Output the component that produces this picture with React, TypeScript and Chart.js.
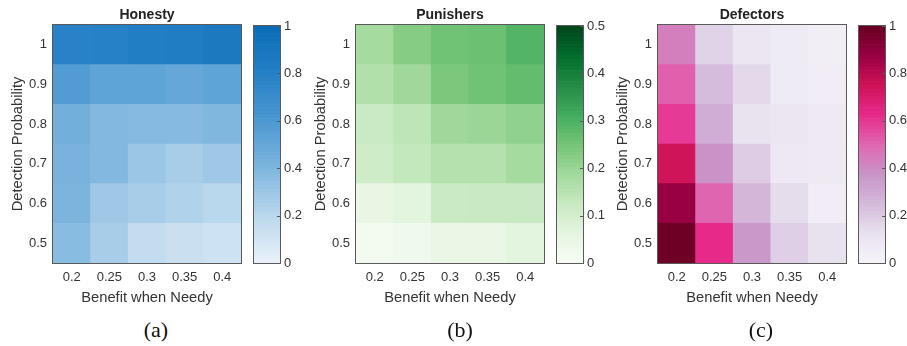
import React, { useEffect, useRef } from 'react';
import { Chart, registerables } from 'chart.js';
Chart.register(...registerables);

Chart.defaults.font.family = '"Liberation Sans", Arial, Helvetica, sans-serif';
Chart.defaults.color = '#333333';

const benefitLabels = ['0.2', '0.25', '0.3', '0.35', '0.4'];
const detectionProbs = [0.5, 0.6, 0.7, 0.8, 0.9, 1];
const detectionLabels = ['0.5', '0.6', '0.7', '0.8', '0.9', '1'];

// rows follow detectionProbs (0.5 ... 1), columns follow benefitLabels
const honesty = [
  [0.36, 0.26, 0.16, 0.13, 0.12],
  [0.41, 0.29, 0.26, 0.23, 0.2],
  [0.42, 0.38, 0.3, 0.26, 0.29],
  [0.44, 0.38, 0.37, 0.37, 0.39],
  [0.57, 0.52, 0.52, 0.5, 0.52],
  [0.78, 0.79, 0.83, 0.84, 0.87],
];
const punishers = [
  [0.015, 0.025, 0.045, 0.045, 0.065],
  [0.05, 0.065, 0.12, 0.122, 0.122],
  [0.11, 0.13, 0.155, 0.155, 0.18],
  [0.12, 0.14, 0.19, 0.195, 0.21],
  [0.16, 0.19, 0.24, 0.255, 0.27],
  [0.18, 0.225, 0.255, 0.26, 0.29],
];
const defectors = [
  [0.98, 0.625, 0.36, 0.18, 0.12],
  [0.875, 0.5, 0.26, 0.14, 0.05],
  [0.74, 0.38, 0.19, 0.08, 0.07],
  [0.59, 0.29, 0.11, 0.09, 0.07],
  [0.51, 0.24, 0.15, 0.06, 0.05],
  [0.43, 0.17, 0.09, 0.06, 0.04],
];

const honestyTicks = [0, 0.2, 0.4, 0.6, 0.8, 1];
const honestyTickLabels = ['0', '0.2', '0.4', '0.6', '0.8', '1'];
const punisherTicks = [0, 0.1, 0.2, 0.3, 0.4, 0.5];
const punisherTickLabels = ['0', '0.1', '0.2', '0.3', '0.4', '0.5'];
const defectorTicks = [0, 0.2, 0.4, 0.6, 0.8, 1];
const defectorTickLabels = ['0', '0.2', '0.4', '0.6', '0.8', '1'];

const blueStops = ['#eaf2f9', '#b9d7ed', '#7db5de', '#4b98d1', '#2580c6', '#0a6cb6'];
const greenStops = ['#f7fcf5', '#e5f5e0', '#c7e9c0', '#a1d99b', '#74c476', '#41ab5d', '#238b45', '#006d2c', '#00441b'];
const pinkStops = ['#f7f4f9', '#e7e1ef', '#d4b9da', '#c994c7', '#df65b0', '#e7298a', '#ce1256', '#980043', '#67001f'];

const COLORBAR_STEPS = 64;

function hexToRgb(h: string) {
  const n = parseInt(h.slice(1), 16);
  return [(n >> 16) & 255, (n >> 8) & 255, n & 255];
}
function colormap(stops: string[], t: number) {
  const tt = Math.max(0, Math.min(1, t));
  const pos = tt * (stops.length - 1);
  const i = Math.min(stops.length - 2, Math.floor(pos));
  const f = pos - i;
  const a = hexToRgb(stops[i]);
  const b = hexToRgb(stops[i + 1]);
  const c = a.map((v, k) => Math.round(v + (b[k] - v) * f));
  return `rgb(${c[0]},${c[1]},${c[2]})`;
}

const frameColor = '#5a5a5a';
const textColor = '#333333';

const framePlugin = {
  id: 'frame',
  afterDatasetsDraw(chart: any) {
    const { ctx, chartArea } = chart;
    ctx.save();
    ctx.strokeStyle = frameColor;
    ctx.lineWidth = 1;
    ctx.strokeRect(
      Math.round(chartArea.left) - 0.5,
      Math.round(chartArea.top) - 0.5,
      Math.round(chartArea.right - chartArea.left) + 1,
      Math.round(chartArea.bottom - chartArea.top) + 1
    );
    ctx.restore();
  },
};

const cbTickPlugin = {
  id: 'cbTicks',
  afterDatasetsDraw(chart: any) {
    const { ctx, chartArea } = chart;
    const y = chart.scales.y;
    ctx.save();
    ctx.strokeStyle = frameColor;
    ctx.lineWidth = 1;
    y.ticks.forEach((t: any) => {
      const py = Math.round(y.getPixelForValue(t.value)) + 0.5;
      ctx.beginPath();
      ctx.moveTo(chartArea.right - 3, py);
      ctx.lineTo(chartArea.right, py);
      ctx.stroke();
    });
    ctx.restore();
  },
};

function heatmapConfig(title: string, values: number[][], stops: string[], max: number) {
  const datasets = detectionProbs.map((p, r) => ({
    data: benefitLabels.map(() => [p - 0.05, p + 0.05]),
    backgroundColor: values[r].map((v) => colormap(stops, v / max)),
    borderWidth: 0,
    grouped: false,
    barPercentage: 1,
    categoryPercentage: 1,
  }));
  return {
    type: 'bar',
    data: { labels: benefitLabels, datasets },
    plugins: [framePlugin],
    options: {
      responsive: false,
      animation: false,
      layout: { padding: { left: 0, right: 3, top: 0, bottom: 0 } },
      plugins: {
        legend: { display: false },
        tooltip: { enabled: false },
        title: {
          display: true,
          text: title,
          fullSize: false,
          color: '#222222',
          font: { size: 14, weight: 'bold' },
          padding: { top: 7, bottom: 1.2 },
        },
      },
      scales: {
        x: {
          type: 'category',
          grid: { display: false, drawTicks: false },
          border: { display: false },
          ticks: { color: textColor, font: { size: 13 }, padding: 7, maxRotation: 0, autoSkip: false },
          title: {
            display: true,
            text: 'Benefit when Needy',
            color: textColor,
            font: { size: 14.7 },
            padding: { top: 0, bottom: 3 },
          },
          afterFit: (s: any) => {
            s.height = 47;
          },
        },
        y: {
          type: 'linear',
          min: 0.45,
          max: 1.05,
          grid: { display: false, drawTicks: false },
          border: { display: false },
          afterBuildTicks: (s: any) => {
            s.ticks = detectionProbs.map((v) => ({ value: v }));
          },
          ticks: {
            color: textColor,
            font: { size: 13 },
            padding: 6,
            callback: (_v: any, i: number) => detectionLabels[i],
          },
          title: {
            display: true,
            text: 'Detection Probability',
            color: textColor,
            font: { size: 14.7 },
            padding: { top: 9, bottom: 0 },
          },
          afterFit: (s: any) => {
            s.width = 53;
          },
        },
      },
    },
  };
}

function colorbarConfig(stops: string[], max: number, ticks: number[], tickLabels: string[]) {
  const datasets = Array.from({ length: COLORBAR_STEPS }, (_, k) => ({
    data: [[(k * max) / COLORBAR_STEPS, ((k + 1) * max) / COLORBAR_STEPS]],
    backgroundColor: colormap(stops, (k + 0.5) / COLORBAR_STEPS),
    borderWidth: 0,
    grouped: false,
    barPercentage: 1,
    categoryPercentage: 1,
  }));
  return {
    type: 'bar',
    data: { labels: [''], datasets },
    plugins: [framePlugin, cbTickPlugin],
    options: {
      responsive: false,
      animation: false,
      layout: { padding: { left: 2, right: 0, top: 26, bottom: 12 } },
      plugins: { legend: { display: false }, tooltip: { enabled: false }, title: { display: false } },
      scales: {
        x: { type: 'category', display: false },
        y: {
          type: 'linear',
          position: 'right',
          min: 0,
          max,
          grid: { display: false, drawTicks: false },
          border: { display: false },
          afterBuildTicks: (s: any) => {
            s.ticks = ticks.map((v) => ({ value: v }));
          },
          ticks: {
            color: textColor,
            font: { size: 13 },
            padding: 4,
            callback: (_v: any, i: number) => tickLabels[i],
          },
          afterFit: (s: any) => {
            s.width = 34;
          },
        },
      },
    },
  };
}

function ChartCanvas({ config, left, top, width, height }: any) {
  const ref = useRef<HTMLCanvasElement>(null);
  useEffect(() => {
    const chart = new Chart(ref.current as HTMLCanvasElement, config);
    return () => chart.destroy();
  }, []);
  return (
    <canvas
      ref={ref}
      width={width}
      height={height}
      style={{ position: 'absolute', left, top, width, height }}
    />
  );
}

const panels = [
  { ox: 0, title: 'Honesty', values: honesty, stops: blueStops, max: 1, ticks: honestyTicks, tickLabels: honestyTickLabels, caption: '(a)', capX: 156 },
  { ox: 303, title: 'Punishers', values: punishers, stops: greenStops, max: 0.5, ticks: punisherTicks, tickLabels: punisherTickLabels, caption: '(b)', capX: 460 },
  { ox: 605, title: 'Defectors', values: defectors, stops: pinkStops, max: 1, ticks: defectorTicks, tickLabels: defectorTickLabels, caption: '(c)', capX: 761 },
];

export default function App() {
  return (
    <div style={{ position: 'fixed', left: 0, top: 0, width: 907, height: 346, background: '#ffffff', overflow: 'hidden' }}>
      {panels.map((p) => (
        <React.Fragment key={p.title}>
          <ChartCanvas
            config={heatmapConfig(p.title, p.values, p.stops, p.max)}
            left={p.ox}
            top={0}
            width={244}
            height={310}
          />
          <ChartCanvas
            config={colorbarConfig(p.stops, p.max, p.ticks, p.tickLabels)}
            left={p.ox + 252}
            top={0}
            width={62}
            height={275}
          />
          <div
            style={{
              position: 'absolute',
              left: p.capX - 30,
              top: 317,
              width: 60,
              textAlign: 'center',
              fontFamily: '"Liberation Serif", "DejaVu Serif", serif',
              fontSize: 22,
              lineHeight: '26px',
              color: '#111111',
            }}
          >
            {p.caption}
          </div>
        </React.Fragment>
      ))}
    </div>
  );
}
